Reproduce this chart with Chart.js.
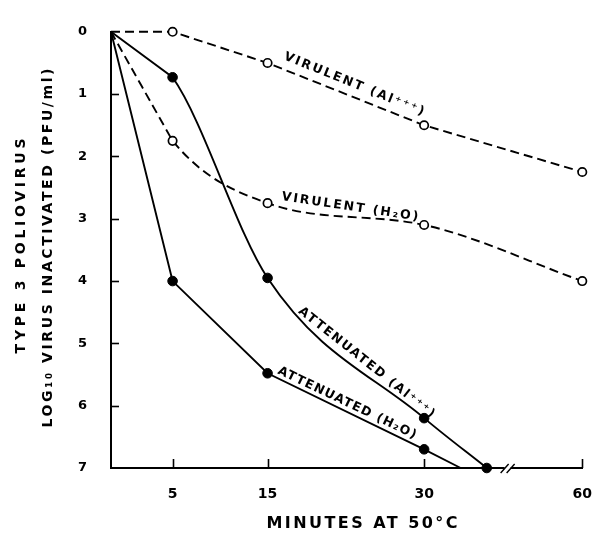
<!DOCTYPE html>
<html>
<head>
<meta charset="utf-8">
<script src="https://cdn.jsdelivr.net/npm/chart.js@4/dist/chart.umd.min.js"></script>
<style>
  html, body { margin: 0; padding: 0; background: #fff; }
  #wrap { width: 610px; height: 533px; position: relative; }
  canvas { display: block; }
</style>
</head>
<body>
<div id="wrap"><canvas id="c" width="610" height="533" style="width:610px;height:533px"></canvas></div>
<script>
// ---------------- data ----------------
const xTickMinutes = [5, 15, 30, 60];
const yTickValues = [0, 1, 2, 3, 4, 5, 6, 7];

const virulentAlMinutes = [0, 5, 15, 30, 60];
const virulentAlLog     = [0, 0, 0.5, 1.5, 2.25];

const virulentH2OMinutes = [0, 5, 15, 30, 60];
const virulentH2OLog     = [0, 1.75, 2.75, 3.1, 4.0];

const attenuatedAlMinutes = [0, 5, 15, 30, 36];
const attenuatedAlLog     = [0, 0.73, 3.95, 6.2, 7.0];

const attenuatedH2OMinutes = [0, 5, 15, 30, 33.5];
const attenuatedH2OLog     = [0, 4.0, 5.48, 6.7, 7.0];

const axisBreakMinutes = 38;

const xTitle = 'MINUTES AT 50°C';
const yTitleLines = ['TYPE 3 POLIOVIRUS', 'LOG₁₀ VIRUS INACTIVATED (PFU/ml)'];

// ---------------- broken time axis: minutes -> axis units ----------------
const AXIS_MIN  = [0, 5, 15, 30, 38, 60];
const AXIS_UNIT = [0, 5.9, 15, 30, 38, 45.15];
function toAxis(m) {
  for (let i = 1; i < AXIS_MIN.length; i++) {
    if (m <= AXIS_MIN[i]) {
      const t = (m - AXIS_MIN[i - 1]) / (AXIS_MIN[i] - AXIS_MIN[i - 1]);
      return AXIS_UNIT[i - 1] + t * (AXIS_UNIT[i] - AXIS_UNIT[i - 1]);
    }
  }
  return AXIS_UNIT[AXIS_UNIT.length - 1];
}
function pts(ms, vs) { return ms.map((m, i) => ({ x: toAxis(m), y: vs[i] })); }

// ---------------- inline curve labels ----------------
const curveLabels = [
  { text: 'VIRULENT (Al⁺⁺⁺)', minutes: 16.5, value: 0.44, angle: 22, length: 150 },
  { text: 'VIRULENT (H₂O)', minutes: 16.3, value: 2.7, angle: 8.5, length: 138 },
  { text: 'ATTENUATED (Al⁺⁺⁺)', minutes: 17.9, value: 4.5, angle: 38.5, length: 170 },
  { text: 'ATTENUATED (H₂O)', minutes: 15.9, value: 5.48, angle: 25.5, length: 152 }
];

const FONT = '"DejaVu Sans", "Liberation Sans", sans-serif';

function drawFitted(ctx, text, x, y, target) {
  ctx.letterSpacing = '0px';
  const w0 = ctx.measureText(text).width;
  const n = Array.from(text).length;
  const s = n > 1 ? Math.max(0, (target - w0) / (n - 1)) : 0;
  ctx.letterSpacing = s.toFixed(2) + 'px';
  ctx.textAlign = 'left';
  ctx.fillText(text, x, y);
  ctx.letterSpacing = '0px';
}

// first segment of a hand-drawn curve is a straight stroke
const straightStart = {
  id: 'straightStart',
  beforeDatasetDraw(chart, args) {
    const ds = chart.data.datasets[args.index];
    const meta = args.meta;
    if (!ds.straightStart || !meta.dataset) return;
    meta.dataset.updateControlPoints(chart.chartArea, 'x');
    const p = meta.data;
    if (p.length > 1) {
      p[0].cp2x = p[0].x; p[0].cp2y = p[0].y;
      p[1].cp1x = p[1].x; p[1].cp1y = p[1].y;
    }
  }
};

const decor = {
  id: 'decor',
  afterDraw(chart) {
    const { ctx, chartArea: a, scales: { x, y } } = chart;
    ctx.save();
    ctx.strokeStyle = '#000';
    ctx.fillStyle = '#000';
    ctx.lineWidth = 1.6;
    ctx.lineCap = 'butt';
    yTickValues.forEach(v => {
      if (v === 0 || v === 7) return;
      const py = Math.round(y.getPixelForValue(v)) + 0.5;
      ctx.beginPath(); ctx.moveTo(a.left, py); ctx.lineTo(a.left + 8, py); ctx.stroke();
    });
    xTickMinutes.forEach(m => {
      const px = Math.round(x.getPixelForValue(toAxis(m))) + 0.5;
      ctx.beginPath(); ctx.moveTo(px, a.bottom); ctx.lineTo(px, a.bottom - 9); ctx.stroke();
    });
    const bx = x.getPixelForValue(toAxis(axisBreakMinutes));
    const by = y.getPixelForValue(7);
    ctx.fillStyle = '#fff';
    ctx.fillRect(bx - 3, by - 2, 6, 4);
    ctx.fillStyle = '#000';
    ctx.lineWidth = 1.4;
    ctx.beginPath();
    ctx.moveTo(bx - 7, by + 5); ctx.lineTo(bx + 1, by - 4);
    ctx.moveTo(bx - 1, by + 5); ctx.lineTo(bx + 7, by - 4);
    ctx.stroke();

    ctx.font = 'bold 12.5px ' + FONT;
    ctx.textBaseline = 'alphabetic';
    curveLabels.forEach(l => {
      const px = x.getPixelForValue(toAxis(l.minutes));
      const py = y.getPixelForValue(l.value);
      ctx.save();
      ctx.translate(px, py);
      ctx.rotate(l.angle * Math.PI / 180);
      drawFitted(ctx, l.text, 0, 0, l.length);
      ctx.restore();
    });

    ctx.font = 'bold 16px ' + FONT;
    drawFitted(ctx, xTitle, 362 - 191 / 2, 528, 191);

    ctx.font = 'bold 14px ' + FONT;
    const cy = (a.top + a.bottom) / 2;
    [[25, 215, cy - 4], [52, 359, cy - 2]].forEach((p, i) => {
      ctx.save();
      ctx.translate(p[0], p[2]);
      ctx.rotate(-Math.PI / 2);
      drawFitted(ctx, yTitleLines[i], -p[1] / 2, 0, p[1]);
      ctx.restore();
    });
    ctx.restore();
  }
};

const openPt = { pointStyle: 'circle', pointBackgroundColor: '#fff', pointBorderColor: '#000', pointBorderWidth: 1.7 };
const fillPt = { pointStyle: 'circle', pointBackgroundColor: '#000', pointBorderColor: '#000', pointBorderWidth: 1 };

new Chart(document.getElementById('c'), {
  type: 'line',
  data: {
    datasets: [
      Object.assign({
        label: 'Virulent (Al+++)',
        data: pts(virulentAlMinutes, virulentAlLog),
        borderColor: '#000', borderWidth: 1.9, borderDash: [9, 5],
        tension: 0, pointRadius: [0, 4.2, 4.2, 4.2, 4.2], clip: false
      }, openPt),
      Object.assign({
        label: 'Virulent (H2O)',
        data: pts(virulentH2OMinutes, virulentH2OLog),
        borderColor: '#000', borderWidth: 1.9, borderDash: [9, 5],
        cubicInterpolationMode: 'monotone', straightStart: true,
        pointRadius: [0, 4.2, 4.2, 4.2, 4.2], clip: false
      }, openPt),
      Object.assign({
        label: 'Attenuated (Al+++)',
        data: pts(attenuatedAlMinutes, attenuatedAlLog),
        borderColor: '#000', borderWidth: 1.9,
        cubicInterpolationMode: 'monotone', straightStart: true,
        pointRadius: [0, 4.8, 4.8, 4.8, 4.8], clip: false
      }, fillPt),
      Object.assign({
        label: 'Attenuated (H2O)',
        data: pts(attenuatedH2OMinutes, attenuatedH2OLog),
        borderColor: '#000', borderWidth: 1.9,
        tension: 0, pointRadius: [0, 4.8, 4.8, 4.8, 0], clip: false
      }, fillPt)
    ]
  },
  options: {
    responsive: false,
    maintainAspectRatio: false,
    animation: false,
    devicePixelRatio: 1,
    layout: { padding: { top: 16, right: 16, left: 0, bottom: 0 } },
    plugins: { legend: { display: false }, tooltip: { enabled: false } },
    scales: {
      x: {
        type: 'linear',
        min: 0,
        max: toAxis(60),
        afterFit: s => { s.height = 65; },
        afterBuildTicks: s => { s.ticks = xTickMinutes.map(m => ({ value: toAxis(m) })); },
        ticks: {
          callback: (v, i) => String(xTickMinutes[i]),
          color: '#000',
          font: { family: FONT, size: 14, weight: 'bold' },
          padding: 18,
          maxRotation: 0,
          autoSkip: false
        },
        grid: { display: false, drawTicks: false },
        border: { display: true, color: '#000', width: 2 },
        title: { display: false, text: xTitle }
      },
      y: {
        type: 'linear',
        reverse: true,
        min: 0,
        max: 7,
        afterFit: s => { s.width = 111; },
        afterBuildTicks: s => { s.ticks = yTickValues.map(v => ({ value: v })); },
        ticks: {
          color: '#000',
          font: { family: FONT, size: 13, weight: 'bold' },
          padding: 24
        },
        grid: { display: false, drawTicks: false },
        border: { display: true, color: '#000', width: 2 },
        title: { display: false, text: yTitleLines }
      }
    }
  },
  plugins: [straightStart, decor]
});
</script>
</body>
</html>
